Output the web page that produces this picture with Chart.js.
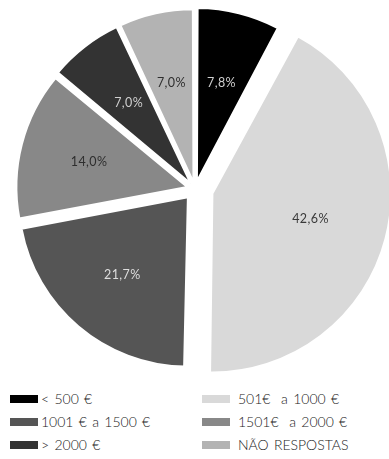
<!DOCTYPE html>
<html lang="pt">
<head>
<meta charset="utf-8">
<script src="https://cdn.jsdelivr.net/npm/chart.js@4.4.1/dist/chart.umd.min.js"></script>
<style>
  html, body { margin: 0; padding: 0; background: #fff; }
  body { width: 389px; height: 459px; position: relative; overflow: hidden;
         font-family: Lato, "Open Sans", sans-serif; font-weight: 300; color: #222; }
  #chart { position: absolute; left: 0; top: 0; }
  #legend { position: absolute; left: 10px; top: 387px; display: grid;
            grid-template-columns: 192px 180px; grid-auto-rows: 23px; }
  .item { display: flex; align-items: center; font-size: 14px; word-spacing: 1.5px; white-space: pre; }
  .box { width: 28px; height: 8px; margin-right: 3px; flex: none; }
  .item:nth-child(even) .box { margin-right: 8px; }
</style>
</head>
<body>
<canvas id="chart" width="389" height="378"></canvas>
<div id="legend"></div>
<script>
// income brackets and share of answers (%)
const categories = ['< 500 €', '501€  a 1000 €', '1001 € a 1500 €', '1501€  a 2000 €', '> 2000 €', 'NÃO RESPOSTAS'];
const percentages = [7.8, 42.6, 21.7, 14.0, 7.0, 7.0];

const sliceColors = ['#000000', '#d9d9d9', '#555555', '#888888', '#333333', '#b3b3b3'];
const labelColors = ['#cfcfcf', '#3a3a3a', '#dedede', '#2e2e2e', '#cfcfcf', '#2e2e2e'];
// how far each slice is pulled out of the pie
const explode = [32, 72, 44, 32, 28, 28];

const fmt = v => v.toFixed(1).replace('.', ',') + '%';

// writes the percentage inside every slice
const sliceLabels = {
  id: 'sliceLabels',
  afterDatasetsDraw(chart) {
    const ctx = chart.ctx;
    const ds = chart.data.datasets[0];
    ctx.save();
    ctx.font = '400 12.5px Lato, "Open Sans", sans-serif';
    ctx.letterSpacing = '0.4px';
    ctx.textAlign = 'center';
    ctx.textBaseline = 'middle';
    chart.getDatasetMeta(0).data.forEach((arc, i) => {
      const p = arc.getProps(['x', 'y', 'startAngle', 'endAngle', 'outerRadius'], true);
      const mid = (p.startAngle + p.endAngle) / 2;
      const r = (arc.options.offset || 0) / 4 + p.outerRadius * 0.6;
      ctx.fillStyle = labelColors[i];
      ctx.fillText(fmt(ds.data[i]), p.x + Math.cos(mid) * r, p.y + Math.sin(mid) * r);
    });
    ctx.restore();
  }
};

const chart = new Chart(document.getElementById('chart'), {
  type: 'pie',
  data: {
    labels: categories,
    datasets: [{
      data: percentages,
      backgroundColor: sliceColors,
      borderColor: '#ffffff',
      borderWidth: 2,
      offset: explode,
      radius: 169
    }]
  },
  options: {
    responsive: false,
    animation: false,
    layout: { padding: { left: 1, right: 0, top: 0, bottom: 0 } },
    plugins: {
      legend: { display: false },
      tooltip: { enabled: false }
    }
  },
  plugins: [sliceLabels]
});

// two-column legend below the pie, filled row by row
const legend = document.getElementById('legend');
chart.data.labels.forEach((name, i) => {
  const item = document.createElement('div');
  item.className = 'item';
  const box = document.createElement('span');
  box.className = 'box';
  box.style.background = chart.data.datasets[0].backgroundColor[i];
  const text = document.createElement('span');
  text.textContent = name;
  item.append(box, text);
  legend.append(item);
});
</script>
</body>
</html>
